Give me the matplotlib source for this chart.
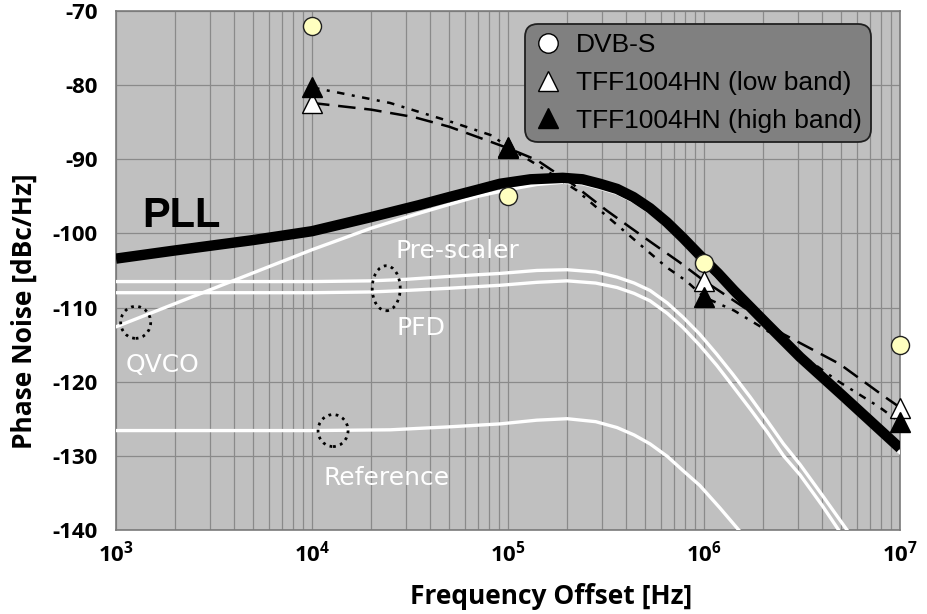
import math
import matplotlib
matplotlib.use('Agg')
import matplotlib.pyplot as plt
import matplotlib.transforms as mtransforms
from matplotlib.patches import Ellipse
from matplotlib.lines import Line2D
from matplotlib.ticker import LogLocator, NullFormatter, FuncFormatter, MultipleLocator

plt.rcParams['axes.unicode_minus'] = False
plt.rcParams['mathtext.fontset'] = 'custom'
plt.rcParams['mathtext.rm'] = 'Open Sans:bold'
plt.rcParams['mathtext.bf'] = 'Open Sans:bold'

# ---- data ----
# total PLL phase noise (thick black)
pll_f = [1e3, 2e3, 5e3, 1e4, 2e4, 3.5e4, 5e4, 7e4, 9.1e4, 1.3e5, 1.9e5, 2.4e5, 2.94e5, 3.6e5,
         4.36e5, 5.3e5, 6.46e5, 7.8e5, 9.55e5, 1.18e6, 1.42e6, 2.09e6, 3.09e6, 5e6, 1e7]
pll_db = [-103.4, -102.3, -100.9, -99.7, -97.8, -96.2, -95.1, -94.1, -93.3, -92.7, -92.5, -92.7, -93.3, -94.0,
          -95.1, -96.6, -98.5, -100.6, -103.0, -105.4, -107.7, -112.2, -116.7, -121.7, -129.0]

# contributions (white)
qvco_f = [1e3, 1e4, 2e4, 3.5e4, 5e4, 7e4, 1e5, 1.4e5, 1.9e5, 2.4e5, 2.94e5, 3.6e5, 4.36e5, 5.3e5,
          6.46e5, 7.8e5, 9.55e5, 1.42e6, 2.09e6, 3.09e6, 5e6, 1e7]
qvco_db = [-112.6, -102.2, -99.3, -97.3, -96.1, -95.0, -94.1, -93.4, -93.1, -93.3, -93.9, -94.6, -95.7, -97.2,
           -99.1, -101.2, -103.6, -108.3, -112.8, -117.3, -122.3, -129.6]

presc_f = [1e3, 1e4, 2e4, 3e4, 5e4, 9.1e4, 1.4e5, 2e5, 2.8e5, 3.6e5, 4.4e5, 5.3e5, 6.5e5, 7.8e5,
           9.5e5, 1.16e6, 1.4e6, 1.72e6, 2.1e6, 2.54e6, 3.09e6, 4e6, 5.35e6]
presc_db = [-106.5, -106.5, -106.4, -106.2, -105.8, -105.4, -105.0, -104.9, -105.2, -105.9, -106.7, -107.7,
            -109.4, -111.3, -113.6, -116.3, -119.0, -122.1, -125.3, -128.4, -131.2, -135.3, -140.0]

pfd_f = [1e3, 1e4, 2e4, 3e4, 5e4, 9.1e4, 1.4e5, 2e5, 2.8e5, 3.6e5, 4.4e5, 5.3e5, 6.5e5, 7.8e5,
         9.5e5, 1.16e6, 1.4e6, 1.72e6, 2.1e6, 2.54e6, 3.09e6, 4e6, 4.85e6]
pfd_db = [-108.0, -108.0, -107.9, -107.7, -107.4, -107.0, -106.6, -106.4, -106.7, -107.3, -108.1, -109.1,
          -110.8, -112.7, -115.1, -117.8, -120.6, -123.7, -126.8, -130.0, -132.6, -136.7, -140.0]

ref_f = [1e3, 1e4, 2.5e4, 5e4, 9.1e4, 1.4e5, 2e5, 2.8e5, 3.6e5, 4.4e5, 5.3e5, 6.5e5, 7.8e5, 9.5e5, 1.2e6, 1.5e6]
ref_db = [-126.6, -126.6, -126.5, -126.1, -125.7, -125.2, -125.0, -125.4, -126.2, -127.2, -128.4, -130.1,
          -132.0, -134.0, -137.0, -140.0]

# measured points
meas_f = [1e4, 1e5, 1e6, 1e7]
dvbs_db = [-72.0, -95.0, -104.0, -115.0]
low_db = [-82.4, -88.5, -106.4, -123.5]
high_db = [-80.3, -88.4, -108.6, -125.5]

# trend lines through the measured points
low_fit_f = [1e4, 2e4, 3.3e4, 5e4, 7e4, 1e5, 1.4e5, 2.15e5, 3.18e5, 4.2e5, 5.5e5, 7.5e5, 1e6, 1.5e6,
             2.54e6, 4.9e6, 8.5e6, 1e7]
low_fit_db = [-82.4, -83.3, -84.3, -85.6, -87.0, -88.5, -90.1, -93.4, -96.9, -99.2, -101.4, -103.9, -106.4,
              -109.5, -113.6, -117.6, -122.2, -123.5]
high_fit_f = [1e4, 2.5e4, 5.2e4, 8.3e4, 1e5, 1.5e5, 2.24e5, 3.88e5, 6.46e5, 8.1e5, 1e6, 1.42e6, 2.09e6,
              4.8e6, 7.8e6, 1e7]
high_fit_db = [-80.3, -82.4, -85.0, -86.8, -88.4, -91.2, -94.2, -99.6, -104.6, -106.4, -108.6, -110.4, -113.1,
               -119.9, -123.4, -125.5]

legend_labels = ['DVB-S', 'TFF1004HN (low band)', 'TFF1004HN (high band)']

# labels inside the plot: (text, freq, dB)
curve_labels = [('QVCO', 1.72e3, -117.7), ('Pre-scaler', 5.5e4, -102.4),
                ('PFD', 3.6e4, -112.7), ('Reference', 2.4e4, -133.0)]
# dotted ellipses: (freq, dB, width in, height in)
rings = [(1.26e3, -112.0, 0.30, 0.32), (2.39e4, -107.4, 0.28, 0.45), (1.28e4, -126.6, 0.30, 0.32)]

fig = plt.figure(figsize=(9.28, 6.14), dpi=100)
ax = fig.add_axes([0.125, 0.137, 0.845, 0.845])
ax.set_facecolor('#c0c0c0')
ax.set_xscale('log')
ax.set_xlim(1e3, 1e7)
ax.set_ylim(-140, -70)

ax.xaxis.set_major_locator(LogLocator(base=10))
ax.xaxis.set_minor_locator(LogLocator(base=10, subs=range(2, 10)))
ax.xaxis.set_minor_formatter(NullFormatter())
ax.xaxis.set_major_formatter(FuncFormatter(lambda v, p: r'$\mathbf{10^{%d}}$' % round(math.log10(v))))
ax.yaxis.set_major_locator(MultipleLocator(10))
ax.grid(which='both', axis='x', color='#8a8a8a', lw=0.9)
ax.grid(which='major', axis='y', color='#8a8a8a', lw=0.9)
ax.set_axisbelow(True)
ax.tick_params(which='both', length=0)
ax.tick_params(axis='y', pad=13, labelsize=16)
ax.tick_params(axis='x', pad=7, labelsize=16)
for lab in ax.get_yticklabels():
    lab.set_fontfamily('Open Sans')
    lab.set_fontweight('bold')
for sp in ax.spines.values():
    sp.set_color('#7a7a7a')
    sp.set_linewidth(1.2)

# white contribution curves
for f, db in [(ref_f, ref_db), (pfd_f, pfd_db), (presc_f, presc_db), (qvco_f, qvco_db)]:
    ax.plot(f, db, color='white', lw=2.4, zorder=3)

# PLL total
ax.plot(pll_f, pll_db, color='black', lw=7.5, solid_capstyle='butt', zorder=4)

# trend lines
ax.plot(low_fit_f, low_fit_db, color='black', lw=1.8, ls=(0, (7, 3.5)), zorder=5)
ax.plot(high_fit_f, high_fit_db, color='black', lw=1.8, ls=(0, (3, 3, 1.2, 3)), zorder=5)

# measured markers
ax.plot(meas_f, dvbs_db, 'o', ms=13, mfc='#ffffc0', mec='#202020', mew=1, clip_on=False, zorder=6)
ax.plot(meas_f, low_db, '^', ms=15, mfc='white', mec='black', mew=1, clip_on=False, zorder=6)
ax.plot(meas_f, high_db, '^', ms=15, mfc='black', mec='black', mew=1, clip_on=False, zorder=7)

# annotations
ax.text(1.36e3, -97.6, 'PLL', fontsize=30, fontweight='bold', family='Liberation Sans',
        ha='left', va='center', zorder=8)
for txt, f, db in curve_labels:
    ax.text(f, db, txt, fontsize=18, color='white', family='DejaVu Sans',
            ha='center', va='center', zorder=8)
for f, db, w, h in rings:
    tr = fig.dpi_scale_trans + mtransforms.ScaledTranslation(f, db, ax.transData)
    ax.add_patch(Ellipse((0, 0), w, h, transform=tr, fill=False, ec='black',
                         lw=2, ls=(0, (1, 1.6)), zorder=8))

handles = [Line2D([], [], marker='o', ls='none', ms=14, mfc='white', mec='black', mew=1),
           Line2D([], [], marker='^', ls='none', ms=15, mfc='white', mec='black', mew=1),
           Line2D([], [], marker='^', ls='none', ms=15, mfc='black', mec='black', mew=1)]
leg = ax.legend(handles, legend_labels, loc='upper right', bbox_to_anchor=(0.963, 0.975),
                prop={'family': 'Liberation Sans', 'size': 19}, facecolor='#808080',
                edgecolor='#202020', framealpha=1, fancybox=True, borderpad=0.35,
                labelspacing=0.52, handletextpad=0.5, handlelength=1.1, borderaxespad=0)
leg.get_frame().set_boxstyle('round', pad=0, rounding_size=0.5)
leg.get_frame().set_linewidth(1.3)
leg.set_zorder(10)

fig.text(0.594, 0.028, 'Frequency Offset [Hz]', fontsize=19, fontweight='bold', family='Open Sans',
         ha='center', va='center')
fig.text(0.0264, 0.4935, 'Phase Noise [dBc/Hz]', fontsize=19, fontweight='bold', family='Open Sans',
         ha='center', va='center', rotation=90)

fig.savefig('out.png', dpi=100)
